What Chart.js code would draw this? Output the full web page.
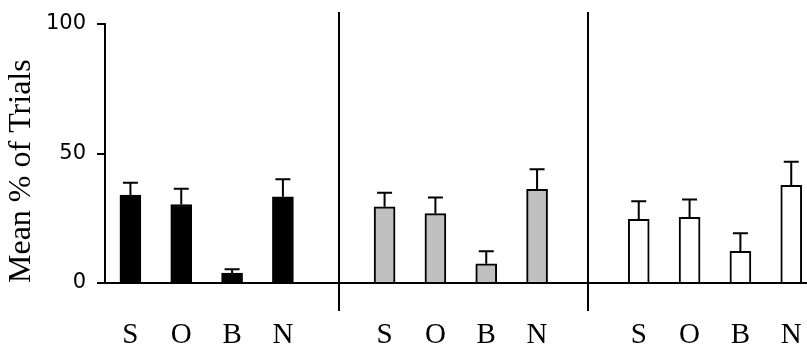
<!DOCTYPE html>
<html>
<head>
<meta charset="utf-8">
<script src="https://cdn.jsdelivr.net/npm/chart.js@4/dist/chart.umd.min.js"></script>
<style>
  body { margin: 0; background: #fff; }
  #wrap { width: 807px; height: 350px; }
</style>
</head>
<body>
<div id="wrap"><canvas id="chart"></canvas></div>
<script>
// bar categories, same in each of the three panels
const categories = ['S', 'O', 'B', 'N'];

// mean % of trials per panel
const panel1 = [33.9, 30.3, 3.8, 33.3];
const panel2 = [29.4, 26.8, 7.4, 36.2];
const panel3 = [24.6, 25.4, 12.2, 37.7];

// upper error (SEM) per panel
const err1 = [4.8, 6.1, 1.5, 6.8];
const err2 = [5.4, 6.2, 4.9, 7.7];
const err3 = [7.0, 6.8, 7.0, 9.1];

const yTicks = [0, 50, 100];

// slot positions of the dividing lines between panels
const dividers = [4.1, 9];

const panels = [panel1, panel2, panel3];
const errs = [err1, err2, err3];
const fills = ['#000000', '#c0c0c0', '#ffffff'];

// each panel takes 5 slots (4 bars + 1 gap)
const tickPos = [];
const tickText = {};
panels.forEach((p, g) => {
    categories.forEach((c, i) => {
        tickPos.push(g * 5 + i);
        tickText[g * 5 + i] = c;
    });
});

const errorBars = {
    id: 'errorBars',
    afterDatasetsDraw(chart) {
        const ctx = chart.ctx;
        const y = chart.scales.y;
        ctx.save();
        ctx.strokeStyle = '#000';
        ctx.lineWidth = 2;
        chart.data.datasets.forEach((ds, d) => {
            const meta = chart.getDatasetMeta(d);
            meta.data.forEach((bar, i) => {
                const top = y.getPixelForValue(ds.data[i].y + errs[d][i]);
                ctx.beginPath();
                ctx.moveTo(bar.x, bar.y);
                ctx.lineTo(bar.x, top);
                ctx.moveTo(bar.x - 7.5, top);
                ctx.lineTo(bar.x + 7.5, top);
                ctx.stroke();
            });
        });
        ctx.restore();
    }
};

const dividerLines = {
    id: 'dividerLines',
    afterDraw(chart) {
        const ctx = chart.ctx;
        const area = chart.chartArea;
        const x = chart.scales.x;
        ctx.save();
        ctx.strokeStyle = '#000';
        ctx.lineWidth = 2;
        dividers.forEach(v => {
            const px = Math.round(x.getPixelForValue(v));
            ctx.beginPath();
            ctx.moveTo(px, area.top - 12);
            ctx.lineTo(px, area.bottom + 28);
            ctx.stroke();
        });
        ctx.restore();
    }
};

new Chart(document.getElementById('chart'), {
    type: 'bar',
    data: {
        datasets: panels.map((p, g) => ({
            data: p.map((v, i) => ({ x: g * 5 + i, y: v })),
            backgroundColor: fills[g],
            borderColor: '#000',
            borderWidth: 2,
            barThickness: 21,
            grouped: false
        }))
    },
    options: {
        responsive: true,
        maintainAspectRatio: false,
        animation: false,
        layout: { padding: { top: 24, right: 0, left: 0, bottom: 0 } },
        plugins: {
            legend: { display: false },
            tooltip: { enabled: false }
        },
        scales: {
            x: {
                type: 'linear',
                offset: false,
                min: -0.5,
                max: 13.31,
                afterFit: s => {
                    s.height = 67;
                    s.paddingLeft = 0;
                    s.paddingRight = 0;
                },
                afterBuildTicks: s => { s.ticks = tickPos.map(v => ({ value: v })); },
                grid: { display: false },
                border: { display: true, color: '#000', width: 2 },
                ticks: {
                    autoSkip: false,
                    maxRotation: 0,
                    padding: 27,
                    color: '#000',
                    font: { family: 'Liberation Serif', size: 29 },
                    callback: v => tickText[v] || ''
                }
            },
            y: {
                min: 0,
                max: 100,
                afterFit: s => { s.width = 105; },
                afterBuildTicks: s => { s.ticks = yTicks.map(v => ({ value: v })); },
                grid: { drawOnChartArea: false, color: '#000', lineWidth: 2, tickLength: 8 },
                border: { display: true, color: '#000', width: 2 },
                ticks: {
                    padding: 11,
                    color: '#000',
                    font: { family: 'DejaVu Sans', size: 21 }
                },
                title: {
                    display: true,
                    text: 'Mean % of Trials',
                    align: 'start',
                    color: '#000',
                    padding: { top: 2, bottom: 0 },
                    font: { family: 'Liberation Serif', size: 32 }
                }
            }
        }
    },
    plugins: [errorBars, dividerLines]
});
</script>
</body>
</html>
